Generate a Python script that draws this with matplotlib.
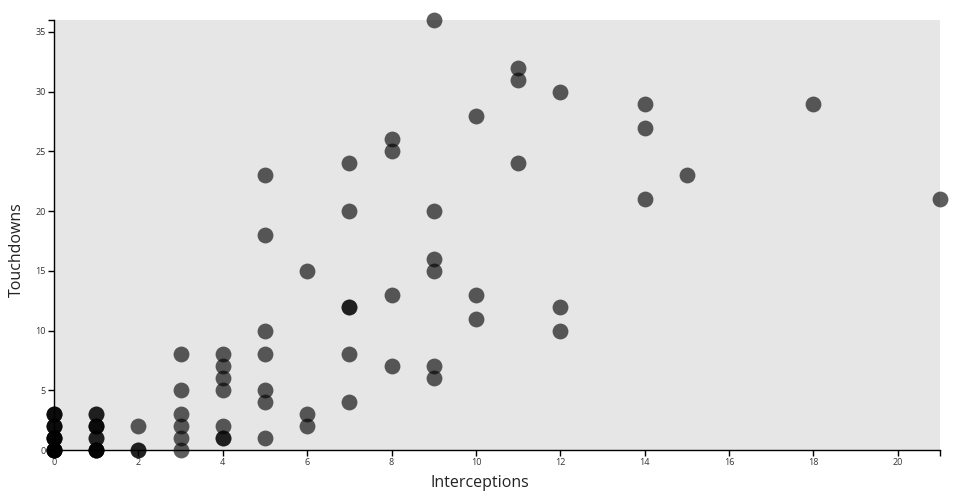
import matplotlib.pyplot as plt

# Interceptions vs touchdowns, one entry per player (duplicates overlap)
interceptions = [0, 0, 0, 0, 0, 0, 0, 0, 0, 0, 0, 0, 0, 0, 0,
                 1, 1, 1, 1, 1, 1, 1, 1, 1, 1, 1,
                 2, 2, 2,
                 3, 3, 3, 3, 3, 3,
                 4, 4, 4, 4, 4, 4, 4,
                 5, 5, 5, 5, 5, 5, 5,
                 6, 6, 6,
                 7, 7, 7, 7, 7, 7,
                 8, 8, 8, 8,
                 9, 9, 9, 9, 9, 9,
                 10, 10, 10,
                 11, 11, 11,
                 12, 12, 12,
                 14, 14, 14,
                 15, 18, 21]
touchdowns = [0, 0, 0, 0, 0, 1, 1, 1, 1, 2, 2, 2, 3, 3, 3,
              0, 0, 0, 0, 1, 1, 2, 2, 2, 3, 3,
              0, 0, 2,
              0, 1, 2, 3, 5, 8,
              1, 1, 2, 5, 6, 7, 8,
              1, 4, 5, 8, 10, 18, 23,
              2, 3, 15,
              4, 8, 12, 12, 20, 24,
              7, 13, 25, 26,
              6, 7, 15, 16, 20, 36,
              11, 13, 28,
              24, 31, 32,
              10, 12, 30,
              21, 27, 29,
              23, 29, 21]

plt.rcParams['font.family'] = ['Open Sans', 'DejaVu Sans']

fig = plt.figure(figsize=(9.6, 5), dpi=100)
ax = fig.add_axes([54 / 960, 50 / 500, 886 / 960, 430 / 500])
ax.set_facecolor('#e6e6e6')

ax.scatter(interceptions, touchdowns, s=130, color='black', alpha=0.63,
           linewidths=0, clip_on=False, zorder=3)

ax.set_xlim(0, 21)
ax.set_ylim(0, 36)
ax.set_xticks(range(0, 21, 2))
ax.set_xticks([21], minor=True)
ax.set_yticks(range(0, 36, 5))
ax.set_yticks([36], minor=True)

for side in ['top', 'right']:
    ax.spines[side].set_visible(False)
for side in ['left', 'bottom']:
    ax.spines[side].set_color('black')
    ax.spines[side].set_linewidth(1)

ax.tick_params(which='both', length=4.5, width=1, color='black',
               labelsize=6.5, labelcolor='#333333', pad=1.5)

# axis titles are centred on the whole figure, not on the axes
fig.text(0.5, 17 / 500, 'Interceptions', fontsize=11.5, color='#222222',
         ha='center', va='center')
fig.text(17 / 960, 0.5, 'Touchdowns', fontsize=11.5, color='#222222',
         ha='center', va='center', rotation=90)

fig.savefig('out.png', dpi=100)
